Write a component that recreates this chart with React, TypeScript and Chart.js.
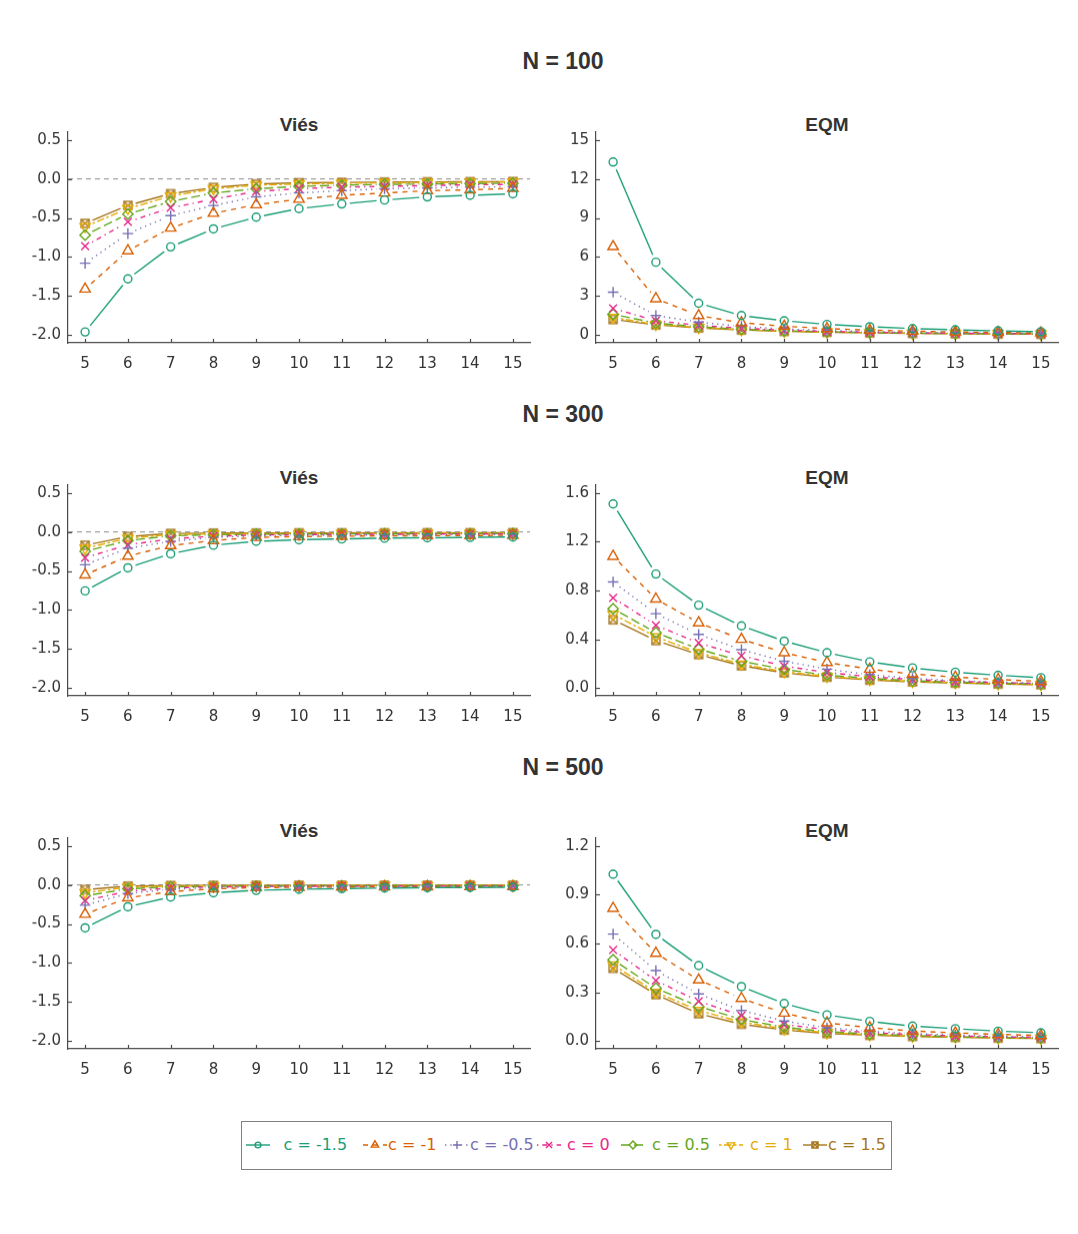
import React, { useEffect, useRef } from "react";
import { Chart, registerables } from "chart.js";

Chart.register(...registerables);

// ---------------- data ----------------
const X_VALUES = [5, 6, 7, 8, 9, 10, 11, 12, 13, 14, 15];
const SERIES_LABELS = ["c = -1.5", "c = -1", "c = -0.5", "c = 0", "c = 0.5", "c = 1", "c = 1.5"];
const ROW_TITLES = ["N = 100", "N = 300", "N = 500"];
const PANEL_TITLES = ["Viés", "EQM"];

const VIES_TICKS = [-2.0, -1.5, -1.0, -0.5, 0.0, 0.5];
const EQM100_TICKS = [0, 3, 6, 9, 12, 15];
const EQM300_TICKS = [0, 0.4, 0.8, 1.2, 1.6];
const EQM500_TICKS = [0, 0.3, 0.6, 0.9, 1.2];
const REFERENCE_VALUE = 0;

const VIES_N100 = [
  [-1.96, -1.28, -0.87, -0.64, -0.49, -0.38, -0.32, -0.27, -0.23, -0.21, -0.19],
  [-1.41, -0.92, -0.63, -0.44, -0.33, -0.26, -0.21, -0.18, -0.15, -0.14, -0.12],
  [-1.08, -0.70, -0.47, -0.34, -0.23, -0.18, -0.15, -0.125, -0.115, -0.105, -0.10],
  [-0.86, -0.55, -0.37, -0.26, -0.16, -0.125, -0.105, -0.095, -0.085, -0.075, -0.07],
  [-0.72, -0.45, -0.29, -0.18, -0.125, -0.095, -0.08, -0.07, -0.065, -0.06, -0.055],
  [-0.61, -0.38, -0.22, -0.125, -0.08, -0.065, -0.055, -0.05, -0.047, -0.043, -0.04],
  [-0.57, -0.34, -0.19, -0.11, -0.065, -0.05, -0.045, -0.04, -0.038, -0.036, -0.034],
];
const EQM_N100 = [
  [13.3, 5.6, 2.45, 1.5, 1.1, 0.82, 0.64, 0.5, 0.4, 0.32, 0.26],
  [6.8, 2.8, 1.5, 0.95, 0.68, 0.5, 0.38, 0.3, 0.24, 0.2, 0.16],
  [3.3, 1.5, 1.0, 0.66, 0.47, 0.35, 0.27, 0.21, 0.17, 0.14, 0.12],
  [2.05, 1.1, 0.75, 0.52, 0.38, 0.28, 0.22, 0.17, 0.14, 0.12, 0.1],
  [1.6, 0.92, 0.64, 0.45, 0.33, 0.25, 0.19, 0.15, 0.12, 0.1, 0.085],
  [1.35, 0.82, 0.58, 0.41, 0.3, 0.23, 0.18, 0.14, 0.11, 0.09, 0.075],
  [1.2, 0.78, 0.55, 0.39, 0.29, 0.22, 0.17, 0.13, 0.105, 0.085, 0.07],
];
const VIES_N300 = [
  [-0.755, -0.46, -0.28, -0.17, -0.12, -0.10, -0.09, -0.08, -0.075, -0.07, -0.065],
  [-0.55, -0.31, -0.175, -0.11, -0.07, -0.06, -0.055, -0.05, -0.048, -0.046, -0.044],
  [-0.42, -0.21, -0.12, -0.07, -0.05, -0.045, -0.04, -0.038, -0.036, -0.034, -0.032],
  [-0.33, -0.165, -0.09, -0.055, -0.04, -0.035, -0.032, -0.03, -0.028, -0.027, -0.026],
  [-0.25, -0.11, -0.05, -0.035, -0.03, -0.027, -0.025, -0.024, -0.023, -0.022, -0.021],
  [-0.21, -0.08, -0.035, -0.025, -0.022, -0.02, -0.019, -0.018, -0.017, -0.016, -0.016],
  [-0.17, -0.06, -0.02, -0.015, -0.014, -0.013, -0.012, -0.012, -0.011, -0.011, -0.01],
];
const EQM_N300 = [
  [1.51, 0.935, 0.68, 0.51, 0.385, 0.29, 0.215, 0.165, 0.13, 0.105, 0.085],
  [1.08, 0.73, 0.535, 0.4, 0.29, 0.21, 0.155, 0.115, 0.09, 0.07, 0.055],
  [0.87, 0.61, 0.44, 0.315, 0.22, 0.155, 0.11, 0.08, 0.06, 0.048, 0.04],
  [0.74, 0.515, 0.37, 0.265, 0.18, 0.128, 0.093, 0.07, 0.055, 0.045, 0.037],
  [0.65, 0.455, 0.32, 0.22, 0.153, 0.106, 0.08, 0.06, 0.048, 0.04, 0.033],
  [0.605, 0.42, 0.29, 0.196, 0.134, 0.095, 0.07, 0.055, 0.044, 0.036, 0.03],
  [0.56, 0.39, 0.275, 0.183, 0.125, 0.09, 0.066, 0.051, 0.041, 0.034, 0.028],
];
const VIES_N500 = [
  [-0.55, -0.28, -0.155, -0.10, -0.07, -0.056, -0.047, -0.04, -0.036, -0.033, -0.03],
  [-0.375, -0.165, -0.085, -0.05, -0.035, -0.03, -0.027, -0.025, -0.023, -0.022, -0.021],
  [-0.26, -0.11, -0.055, -0.035, -0.025, -0.022, -0.02, -0.019, -0.018, -0.017, -0.016],
  [-0.2, -0.08, -0.04, -0.025, -0.02, -0.018, -0.016, -0.015, -0.014, -0.013, -0.012],
  [-0.14, -0.05, -0.025, -0.018, -0.015, -0.013, -0.012, -0.011, -0.01, -0.01, -0.009],
  [-0.1, -0.03, -0.015, -0.012, -0.01, -0.009, -0.008, -0.008, -0.007, -0.007, -0.006],
  [-0.06, -0.015, -0.008, -0.006, -0.005, -0.005, -0.004, -0.004, -0.004, -0.003, -0.003],
];
const EQM_N500 = [
  [1.026, 0.656, 0.464, 0.335, 0.231, 0.161, 0.121, 0.092, 0.076, 0.061, 0.051],
  [0.816, 0.54, 0.376, 0.262, 0.172, 0.112, 0.082, 0.062, 0.05, 0.041, 0.034],
  [0.658, 0.433, 0.29, 0.188, 0.123, 0.082, 0.06, 0.046, 0.037, 0.03, 0.025],
  [0.56, 0.372, 0.245, 0.157, 0.102, 0.07, 0.052, 0.04, 0.032, 0.026, 0.022],
  [0.5, 0.325, 0.213, 0.133, 0.085, 0.058, 0.043, 0.034, 0.027, 0.022, 0.019],
  [0.468, 0.3, 0.188, 0.117, 0.075, 0.052, 0.039, 0.031, 0.025, 0.02, 0.017],
  [0.448, 0.286, 0.168, 0.104, 0.068, 0.047, 0.036, 0.029, 0.023, 0.019, 0.016],
];

// ---------------- style ----------------
const COLORS = ["#1B9E77", "#D95F02", "#7570B3", "#E7298A", "#66A61E", "#E6AB02", "#A6761D"];
const DASHES: number[][] = [[], [5, 5], [1.3, 4], [1.3, 4, 5, 4], [9, 4], [2.5, 2.5, 7.5, 2.5], []];
const MARKERS = ["circle", "triangle", "plus", "x", "diamond", "down", "boxx"];
const MARKER_R = [4, 6, 5.3, 5.5, 5.2, 6, 4];
const LINE_W = 1.4;
const GAP = 8;
const AXIS_COLOR = "#4a4a4a";
const TEXT_COLOR = "#333333";
const TICK_FONT = "'DejaVu Sans', sans-serif";
const TITLE_FONT = "'Liberation Sans', Arial, sans-serif";

const X_MIN = 4.6;
const X_MAX = 15.4;
const ROW_OFFSETS = [0, 353, 706];
const PLOT_TOP = 132;
const PLOT_H = 210.5;
const PAD_TOP = 10;
const X_AXIS_H = 35;

type PanelSpec = {
  data: number[][];
  yMin: number;
  yMax: number;
  ticks: number[];
  decimals: number;
  zero: boolean;
  col: number;
  row: number;
};

const PANELS: PanelSpec[] = [
  { data: VIES_N100, yMin: -2.1, yMax: 0.6, ticks: VIES_TICKS, decimals: 1, zero: true, col: 0, row: 0 },
  { data: EQM_N100, yMin: -0.6, yMax: 15.6, ticks: EQM100_TICKS, decimals: 0, zero: false, col: 1, row: 0 },
  { data: VIES_N300, yMin: -2.1, yMax: 0.6, ticks: VIES_TICKS, decimals: 1, zero: true, col: 0, row: 1 },
  { data: EQM_N300, yMin: -0.064, yMax: 1.664, ticks: EQM300_TICKS, decimals: 1, zero: false, col: 1, row: 1 },
  { data: VIES_N500, yMin: -2.1, yMax: 0.6, ticks: VIES_TICKS, decimals: 1, zero: true, col: 0, row: 2 },
  { data: EQM_N500, yMin: -0.048, yMax: 1.248, ticks: EQM500_TICKS, decimals: 1, zero: false, col: 1, row: 2 },
];

// column geometry: canvas left, y-axis width, right padding, canvas width
const COL_GEOM = [
  { left: 0, yW: 68, padR: 15, width: 545 },
  { left: 530, yW: 66, padR: 17, width: 545 },
];

function makeBoxX(color: string): HTMLCanvasElement {
  const c = document.createElement("canvas");
  c.width = 12;
  c.height = 12;
  const g = c.getContext("2d")!;
  g.strokeStyle = color;
  g.lineWidth = LINE_W;
  g.strokeRect(2, 2, 8, 8);
  g.beginPath();
  g.moveTo(2, 2);
  g.lineTo(10, 10);
  g.moveTo(10, 2);
  g.lineTo(2, 10);
  g.stroke();
  return c;
}

function pointStyleFor(i: number): any {
  switch (MARKERS[i]) {
    case "circle": return "circle";
    case "triangle": return "triangle";
    case "plus": return "cross";
    case "x": return "crossRot";
    case "diamond": return "rectRot";
    case "down": return "triangle";
    default: return makeBoxX(COLORS[i]);
  }
}

const gapLinePlugin = {
  id: "gapLines",
  beforeDatasetDraw(chart: any, args: any) {
    const i = args.index;
    const pts = args.meta.data;
    const ctx = chart.ctx;
    ctx.save();
    ctx.strokeStyle = COLORS[i];
    ctx.lineWidth = LINE_W;
    ctx.setLineDash(DASHES[i]);
    for (let k = 0; k < pts.length - 1; k++) {
      const a = pts[k];
      const b = pts[k + 1];
      const dx = b.x - a.x;
      const dy = b.y - a.y;
      const len = Math.hypot(dx, dy);
      if (len <= 2 * GAP + 1) continue;
      const ux = dx / len;
      const uy = dy / len;
      ctx.beginPath();
      ctx.moveTo(a.x + ux * GAP, a.y + uy * GAP);
      ctx.lineTo(b.x - ux * GAP, b.y - uy * GAP);
      ctx.stroke();
    }
    ctx.restore();
  },
};

function makeZeroPlugin(show: boolean) {
  return {
    id: "zeroLine",
    beforeDatasetsDraw(chart: any) {
      if (!show) return;
      const { ctx, chartArea, scales } = chart;
      const y = scales.y.getPixelForValue(REFERENCE_VALUE);
      ctx.save();
      ctx.strokeStyle = "#a0a0a0";
      ctx.lineWidth = 1.2;
      ctx.setLineDash([5, 4]);
      ctx.beginPath();
      ctx.moveTo(chartArea.left, y);
      ctx.lineTo(chartArea.right, y);
      ctx.stroke();
      ctx.restore();
    },
  };
}

const inwardTicksPlugin = {
  id: "inwardTicks",
  afterDraw(chart: any) {
    const { ctx, chartArea, scales } = chart;
    const L = 4;
    ctx.save();
    ctx.strokeStyle = AXIS_COLOR;
    ctx.lineWidth = 1.2;
    scales.x.ticks.forEach((t: any) => {
      const px = Math.round(scales.x.getPixelForValue(t.value)) + 0.5;
      ctx.beginPath();
      ctx.moveTo(px, chartArea.bottom);
      ctx.lineTo(px, chartArea.bottom - L);
      ctx.stroke();
    });
    scales.y.ticks.forEach((t: any) => {
      const py = Math.round(scales.y.getPixelForValue(t.value)) + 0.5;
      ctx.beginPath();
      ctx.moveTo(chartArea.left, py);
      ctx.lineTo(chartArea.left + L, py);
      ctx.stroke();
    });
    ctx.restore();
  },
};

function Panel({ spec }: { spec: PanelSpec }) {
  const ref = useRef<HTMLCanvasElement>(null);
  const geom = COL_GEOM[spec.col];
  const height = PAD_TOP + PLOT_H + X_AXIS_H;
  const top = PLOT_TOP + ROW_OFFSETS[spec.row] - PAD_TOP;

  useEffect(() => {
    if (!ref.current) return;
    const chart = new Chart(ref.current, {
      type: "line",
      data: {
        datasets: spec.data.map((vals, i) => ({
          label: SERIES_LABELS[i],
          data: X_VALUES.map((x, j) => ({ x, y: vals[j] })),
          borderColor: COLORS[i],
          backgroundColor: "transparent",
          showLine: false,
          pointStyle: pointStyleFor(i),
          pointRotation: MARKERS[i] === "down" ? 180 : 0,
          pointRadius: MARKER_R[i],
          pointHoverRadius: MARKER_R[i],
          pointBorderWidth: LINE_W,
          pointBackgroundColor: "transparent",
          pointBorderColor: COLORS[i],
          clip: false,
        })) as any,
      },
      options: {
        responsive: false,
        animation: false,
        devicePixelRatio: 1,
        events: [],
        layout: { padding: { left: 0, top: PAD_TOP, right: geom.padR, bottom: 0 } },
        plugins: {
          legend: { display: false },
          tooltip: { enabled: false },
          title: { display: false },
        },
        scales: {
          x: {
            type: "linear",
            min: X_MIN,
            max: X_MAX,
            afterBuildTicks: (s: any) => {
              s.ticks = X_VALUES.map((v) => ({ value: v }));
            },
            afterFit: (s: any) => {
              s.height = X_AXIS_H;
              s.paddingLeft = 0;
              s.paddingRight = 0;
            },
            ticks: {
              autoSkip: false,
              maxRotation: 0,
              padding: 12,
              color: TEXT_COLOR,
              font: { family: TICK_FONT, size: 15 },
              callback: (v: any) => String(v),
            },
            grid: { display: true, drawOnChartArea: false, drawTicks: false },
            border: { display: true, color: AXIS_COLOR, width: 1.2 },
          },
          y: {
            type: "linear",
            min: spec.yMin,
            max: spec.yMax,
            afterBuildTicks: (s: any) => {
              s.ticks = spec.ticks.map((v) => ({ value: v }));
            },
            afterFit: (s: any) => {
              s.width = geom.yW;
              s.paddingTop = 0;
              s.paddingBottom = 0;
            },
            ticks: {
              autoSkip: false,
              padding: 7,
              color: TEXT_COLOR,
              font: { family: TICK_FONT, size: 15 },
              callback: (v: any) => Number(v).toFixed(spec.decimals),
            },
            grid: { display: true, drawOnChartArea: false, drawTicks: false },
            border: { display: true, color: AXIS_COLOR, width: 1.2 },
          },
        },
      } as any,
      plugins: [gapLinePlugin, makeZeroPlugin(spec.zero), inwardTicksPlugin],
    });
    return () => chart.destroy();
  }, []);

  return (
    <canvas
      ref={ref}
      width={geom.width}
      height={height}
      style={{ position: "absolute", left: geom.left, top, width: geom.width, height }}
    />
  );
}

// ---------------- legend ----------------
const LEGEND_MARKER_X = [258, 375, 457, 549, 633, 731, 815];
const LEGEND_TEXT_X = [283.5, 388, 470, 567, 652, 750, 828];
const LEGEND_Y = 1144.5;

function SvgMarker({ kind, color, cx, cy, s }: any) {
  const common = { fill: "none", stroke: color, strokeWidth: LINE_W };
  switch (kind) {
    case "circle":
      return <circle cx={cx} cy={cy} r={3.4 * s} {...common} />;
    case "triangle": {
      const r = 5 * s;
      const p = [[cx, cy - r], [cx + r * 0.866, cy + r * 0.5], [cx - r * 0.866, cy + r * 0.5]];
      return <polygon points={p.map((q) => q.join(",")).join(" ")} {...common} />;
    }
    case "down": {
      const r = 5 * s;
      const p = [[cx, cy + r], [cx + r * 0.866, cy - r * 0.5], [cx - r * 0.866, cy - r * 0.5]];
      return <polygon points={p.map((q) => q.join(",")).join(" ")} {...common} />;
    }
    case "plus": {
      const r = 4.8 * s;
      return <path d={`M${cx - r},${cy}H${cx + r}M${cx},${cy - r}V${cy + r}`} {...common} />;
    }
    case "x": {
      const r = 3.6 * s;
      return <path d={`M${cx - r},${cy - r}L${cx + r},${cy + r}M${cx + r},${cy - r}L${cx - r},${cy + r}`} {...common} />;
    }
    case "diamond": {
      const r = 4.6 * s;
      return <polygon points={`${cx},${cy - r} ${cx + r},${cy} ${cx},${cy + r} ${cx - r},${cy}`} {...common} />;
    }
    default: {
      const r = 3.6 * s;
      return (
        <path
          d={`M${cx - r},${cy - r}H${cx + r}V${cy + r}H${cx - r}ZM${cx - r},${cy - r}L${cx + r},${cy + r}M${cx + r},${cy - r}L${cx - r},${cy + r}`}
          {...common}
        />
      );
    }
  }
}

function Legend() {
  return (
    <>
      <div
        style={{
          position: "absolute",
          left: 240.5,
          top: 1121,
          width: 651,
          height: 49,
          border: "1.3px solid #808080",
          boxSizing: "border-box",
        }}
      />
      {SERIES_LABELS.map((label, i) => (
        <React.Fragment key={label}>
          <svg
            width={28}
            height={16}
            style={{ position: "absolute", left: LEGEND_MARKER_X[i] - 14, top: LEGEND_Y - 8 }}
          >
            <line
              x1={2}
              y1={8}
              x2={26}
              y2={8}
              stroke={COLORS[i]}
              strokeWidth={LINE_W}
              strokeDasharray={DASHES[i].length ? DASHES[i].join(",") : undefined}
            />
            <SvgMarker kind={MARKERS[i]} color={COLORS[i]} cx={14} cy={8} s={0.85} />
          </svg>
          <div
            style={{
              position: "absolute",
              left: LEGEND_TEXT_X[i],
              top: 1137.2,
              fontFamily: TICK_FONT,
              fontSize: 16,
              lineHeight: "16px",
              color: COLORS[i],
              whiteSpace: "nowrap",
            }}
          >
            {label}
          </div>
        </React.Fragment>
      ))}
    </>
  );
}

export default function App() {
  return (
    <div
      style={{
        position: "absolute",
        left: 0,
        top: 0,
        width: 1078,
        height: 1234,
        background: "#ffffff",
        overflow: "hidden",
      }}
    >
      {ROW_TITLES.map((t, r) => (
        <div
          key={t}
          style={{
            position: "absolute",
            left: 463,
            width: 200,
            top: 49.7 + ROW_OFFSETS[r],
            textAlign: "center",
            fontFamily: TITLE_FONT,
            fontWeight: "bold",
            fontSize: 23,
            lineHeight: "23px",
            color: TEXT_COLOR,
          }}
        >
          {t}
        </div>
      ))}
      {ROW_OFFSETS.map((off, r) =>
        PANEL_TITLES.map((t, c) => (
          <div
            key={`${r}-${c}`}
            style={{
              position: "absolute",
              left: (c === 0 ? 299 : 827) - 100,
              width: 200,
              top: 114.6 + off,
              textAlign: "center",
              fontFamily: TITLE_FONT,
              fontWeight: "bold",
              fontSize: 19,
              lineHeight: "19px",
              color: TEXT_COLOR,
            }}
          >
            {t}
          </div>
        ))
      )}
      {PANELS.map((p, i) => (
        <Panel key={i} spec={p} />
      ))}
      <Legend />
    </div>
  );
}
